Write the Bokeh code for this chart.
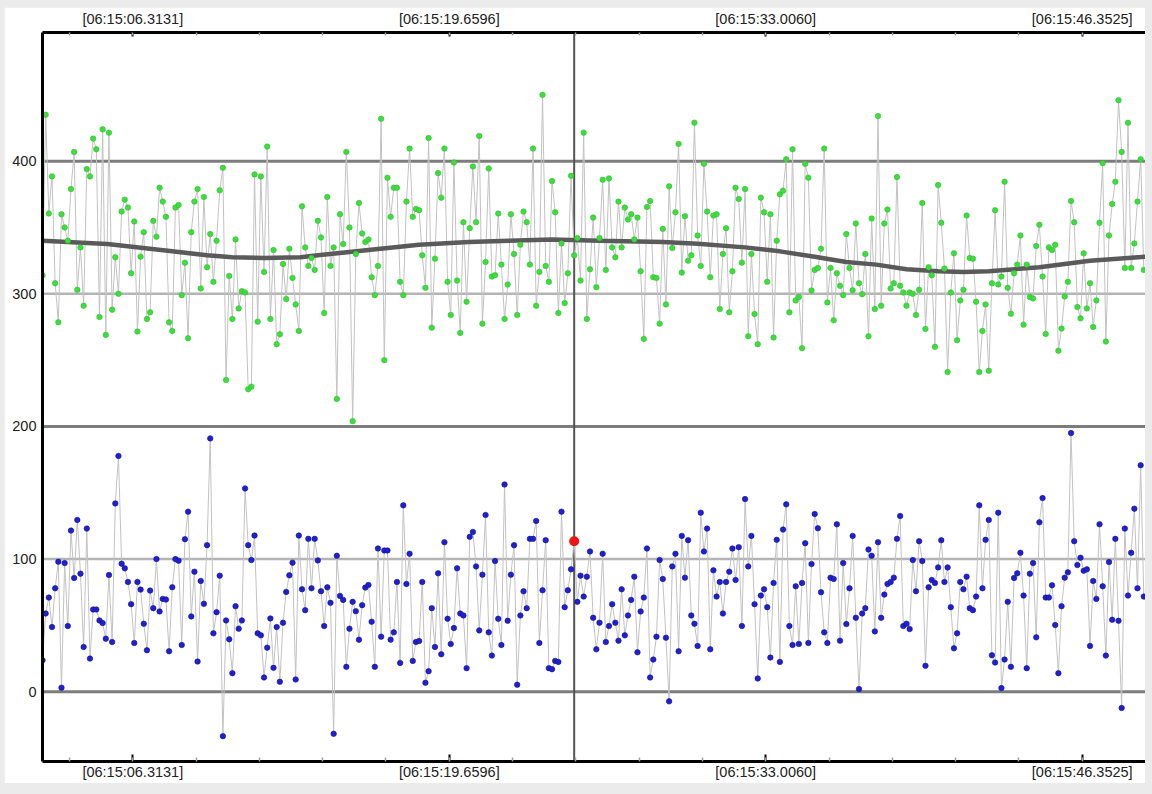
from bokeh.plotting import figure
from bokeh.models import (Range1d, LinearAxis, FixedTicker, CustomJSTickFormatter,
                          Span, ColumnDataSource, GlobalInlineStyleSheet)
from bokeh.embed import file_html
from bokeh.resources import INLINE

# ---- data -------------------------------------------------------------
T0 = 2.505          # seconds after 06:15:00 of the first sample
DT = 0.133465       # sample spacing (s)

green = [
    314, 435, 360.5, 388.5, 308, 278.5, 360, 350, 340, 379,
    407, 303, 335, 291, 394, 388.5, 417, 409, 282.5, 424,
    269, 421.5, 288, 327.5, 300, 362, 371, 365, 315.5, 354.5,
    271.5, 328, 346.5, 281, 286, 355, 343, 380, 369.5, 358,
    278.5, 272, 365, 367, 299, 323.5, 266.5, 346.5, 369.5, 379,
    304, 373, 320, 345, 309, 340, 378, 395, 235, 313.5,
    281, 341, 289, 302, 301, 228, 230, 390, 279, 388.5,
    316.5, 411, 281, 333, 262, 269.5, 322.5, 296, 334, 312,
    292, 272, 366, 335, 321, 327, 318, 355,
    342.5, 285.5, 373, 321, 335, 220.75, 360, 337.5, 407, 350, 204, 330,
    368.5, 345.5, 339, 341, 312.5, 299, 321, 432, 250, 387.5,
    358, 380, 380, 309, 299, 369.5, 409.5, 358, 364, 363,
    329, 304.5, 417.5, 274.5, 326.5, 391, 372.5, 409.5, 309, 284,
    399, 310, 270.5, 354, 294, 349.5, 396, 354, 419, 277.5,
    324, 394.5, 313, 314, 360.5, 322, 281, 307, 360, 330,
    284, 337, 362, 354, 322, 409.5, 291, 316.5, 450, 321,
    309, 385, 361.5, 285.5, 338, 293, 315.5, 389, 329, 342,
    310, 421.5, 281, 318.5, 357.5, 305,
    342, 386, 318, 387,
    335, 327.5, 369.5, 335, 365, 356, 360, 341, 357.5, 317,
    266, 365.5, 370, 312.5, 312, 277.5, 349, 292, 381, 334.5,
    361.5, 413, 316, 358.5, 325, 329, 429, 344, 321, 398,
    362, 312.5, 359, 360, 288.5, 330, 349.5, 286, 317, 380,
    371.5, 323.5, 379, 268, 330, 284.75, 262, 372.5, 361.5, 309,
    360, 267, 340, 375, 377.75, 401.5, 286, 409, 295, 297.5,
    259, 398, 387.5, 302.5, 318, 319.5, 334, 409.5, 293.5, 319.5,
    280, 315.5, 306, 299, 345, 319.5, 302.75, 353, 308, 299.75,
    330, 268, 356.75, 288.5,
    434, 291, 353, 363.5, 304, 308,
    388, 306, 301, 291, 301, 300, 284, 303, 368.5, 273.5,
    320, 314, 260, 382, 353.5, 319, 241, 301, 330.5, 265,
    295, 303, 359, 327, 326.5, 294, 241, 272, 292, 242,
    308, 363, 307, 313, 384.5, 304.5, 285, 315.5, 322, 344,
    276.75, 322, 297.5, 296.5, 336, 352, 313, 269.75, 335, 333,
    337, 257, 273.75, 298, 309, 370, 354, 290, 281.5, 330.5,
    289, 308, 275, 295, 353.5, 398.5, 264, 344, 367.75, 384.5,
    446, 407, 319.5, 429, 319.5, 338, 369.5, 401.5, 318,
]

blue = [
    23.75, 59, 71, 48.75, 78, 98, 3, 97, 49.5, 121.5,
    85.75, 129.5, 89, 33.75, 123, 25, 62, 62, 53.75, 51.75,
    40, 88, 37.5, 142, 177.75, 96.5, 93, 82.75, 66, 36.75,
    82.75, 77, 51.25, 31.25, 76.25, 63, 100, 60.5, 70, 69.5,
    30.5, 78.75, 100, 98.75, 35.25, 115, 135.75, 56.75, 90.5, 22.75,
    83.5, 66.25, 110.5, 191, 44, 60, 87.5, -33.5, 53.75, 39.5,
    14, 64.5, 47.5, 53.75, 153.25, 110.5, 99.25, 117.75, 44, 42.5,
    10.75, 33.25, 55.25, 18, 48.75, 7.5, 52, 75.25, 87.75, 97.25,
    9.25, 117.75, 77.25, 61.5, 115.25, 78, 115.25, 99,
    75.75, 49.5, 78.75, 67, -31.75, 102.5, 72.25, 69.25, 18.75, 47.5, 67.75, 60.75,
    39.25, 65.25, 78.5, 80.5, 52.75, 18.75, 108, 41.5, 106.5, 106.5,
    39.25, 44.75, 82.75, 21.75, 140.5, 81.25, 104, 23.25, 37.5, 38.25,
    82.75, 6.75, 15.5, 63, 33.75, 89.25, 28.25, 112.75, 55, 36,
    48, 93, 59, 57.5, 17.75, 116.75, 120.5, 94.5, 46.25, 88.25,
    133.25, 44.75, 27.25, 98.5, 55, 35.25, 156.25, 53.5, 88.25, 110.5,
    5.25, 57.5, 75.75, 63, 115.25, 115.25, 128.75, 36.75, 76.5, 114.25,
    17.75, 17, 23.25, 22.5, 135.75, 63.75, 76.5, 92.25, 113.5, 67.75,
    87.5, 71.75, 86.75, 105.75, 55.75, 32,
    52, 104, 37.5, 49.5,
    66, 52, 38.5, 77.25, 42.5, 57.5, 69.25, 86.75, 29.75, 60.5,
    71, 108, 10.75, 24.25, 41.5, 99.25, 85, 40.75, -7.25, 94.5,
    104, 30.5, 117.5, 86, 114.25, 57.5, 51.25, 34.5, 135, 105.75,
    123, 32, 91.5, 71.75, 82.75, 59, 82.75, 90.5, 108, 84.25,
    109, 49.5, 145.25, 94.5, 117.5, 66, 10, 72.5, 77.25, 63.75,
    25.75, 82, 114.5, 22.5, 122.25, 141.25, 49.5, 35.25, 79.5, 36,
    82, 112, 36.75, 96.25, 134, 123.25, 75, 44.75, 36.75, 86,
    85, 126.25, 38.5, 97, 51, 78, 117.5, 55.75, 2, 59,
    63, 107.25, 102.5, 45.5,
    112.75, 55.75, 73.25, 81.25, 82.75, 86,
    115.25, 132.5, 49.5, 51.25, 47.25, 99.25, 75.75, 113.5, 98.5, 19.5,
    78.75, 84.25, 82, 93.75, 114.25, 82.75, 93.75, 63.75, 32.75, 44,
    82.75, 77.25, 86.75, 63, 61.5, 71.75, 140.5, 78, 114.5, 129.5,
    27.5, 22, 135, 2.75, 24.25, 67.75, 18.75, 85.75, 89.25, 104.75,
    72.5, 17.75, 89, 97, 41, 127.75, 146, 71, 71, 80.25,
    50.25, 14, 64.5, 86, 90, 195, 113.5, 95.5, 101, 91.25,
    92.25, 34.5, 83.5, 70, 126.25, 79.5, 27.25, 97.75, 54.25, 115.25,
    53.5, -12.25, 123, 72.5, 104.75, 138, 78, 170.75, 71.75,
]

# smooth trend of the green series (sample index, value)
trend_idx = [0, 20.5, 41, 52, 60, 70, 81.5, 87, 103, 119, 134.6, 150, 161, 176,
             196, 207, 222, 233, 244, 254, 263.5, 273, 283, 291, 299, 315, 331, 349]
trend_val = [340, 337.5, 332, 329, 327.5, 327, 327.5, 329, 333, 337, 339, 340.25, 341, 340,
             339, 337.75, 335, 332, 328, 324, 322, 318.5, 317, 316.5, 317, 320, 325, 328]

hover_index = 168   # sample under the cursor (highlighted in red)

x_ticks = [6.3131, 19.6596, 33.0060, 46.3525]
x_tick_labels = ["[06:15:06.3131]", "[06:15:19.6596]", "[06:15:33.0060]", "[06:15:46.3525]"]
y_ticks = [0, 100, 200, 300, 400]
grid_dark = [0, 200, 400]
grid_light = [100, 300]

# ---- build ------------------------------------------------------------
t = [T0 + i * DT for i in range(len(green))]
t_trend = [T0 + i * DT for i in trend_idx]
src = ColumnDataSource(dict(t=t, g=green, b=blue))

x_end = T0 + 1103 / 23.712
p = figure(width=1141, height=776, output_backend="svg", toolbar_location=None,
           x_range=Range1d(T0, x_end), y_range=Range1d(-52.6, 497.0),
           x_axis_location="below", min_border_left=38, min_border_right=0,
           min_border_top=23, min_border_bottom=22)
p.outline_line_color = None
p.background_fill_color = "white"
p.border_fill_color = "white"
p.xgrid.visible = False
p.ygrid.visible = False
p.stylesheets = [GlobalInlineStyleSheet(
    css="html, body { background-color: #ebebeb; } body { padding: 7px 0 0 4px; }")]

# minor ticks: 5 per major interval
step = (x_ticks[1] - x_ticks[0]) / 5
minor = []
k = -10
while True:
    v = x_ticks[0] + k * step
    if v > x_end + step:
        break
    minor.append(v)
    k += 1

fmt_code = """
for (let i = 0; i < xt_vals.length; i++) {
  if (Math.abs(xt_vals[i] - tick) < 1e-6) { return xt_labels[i]; }
}
return "";
"""

def style_x(ax, tin, mtin):
    ax.ticker = FixedTicker(ticks=x_ticks, minor_ticks=minor)
    ax.formatter = CustomJSTickFormatter(args=dict(xt_vals=x_ticks, xt_labels=x_tick_labels),
                                         code=fmt_code)
    ax.axis_line_color = "black"
    ax.axis_line_width = 3
    ax.major_tick_in = tin
    ax.major_tick_out = 0
    ax.minor_tick_in = mtin
    ax.minor_tick_out = 0
    ax.major_tick_line_color = "black"
    ax.major_tick_line_width = 2
    ax.minor_tick_line_color = "#a0a0a0"
    ax.minor_tick_line_width = 1.5
    ax.major_label_text_font = "Liberation Sans"
    ax.major_label_text_font_size = "14.5px"
    ax.major_label_text_color = "#222222"

xb = p.xaxis[0]
style_x(xb, 7, 4)
xb.major_label_standoff = 2

xt = LinearAxis()
style_x(xt, 4, 3)
xt.major_label_standoff = 6
p.add_layout(xt, "above")

ya = p.yaxis[0]
ya.ticker = FixedTicker(ticks=y_ticks, minor_ticks=[])
ya.axis_line_color = "black"
ya.axis_line_width = 3
ya.major_tick_in = 0
ya.major_tick_out = 0
ya.minor_tick_line_color = None
ya.major_tick_line_color = None
ya.major_label_standoff = 6
ya.major_label_text_font = "Liberation Sans"
ya.major_label_text_font_size = "14.5px"
ya.major_label_text_color = "#222222"

for v in grid_light:
    p.add_layout(Span(location=v, dimension="width", line_color="#b4b4b4",
                      line_width=2.5, level="underlay"))
for v in grid_dark:
    p.add_layout(Span(location=v, dimension="width", line_color="#7c7c7c",
                      line_width=3, level="underlay"))
p.add_layout(Span(location=T0 + hover_index * DT, dimension="height",
                  line_color="#555555", line_width=2, level="underlay"))

p.line("t", "g", source=src, line_color="#c2c2c2", line_width=1)
p.line("t", "b", source=src, line_color="#c2c2c2", line_width=1)
p.line(t_trend, trend_val, line_color="#5a5a5a", line_width=4.5)
p.scatter("t", "g", source=src, size=5.5, fill_color="#3fdc3f", line_color="#2cc02c", line_width=0.6)
p.scatter("t", "b", source=src, size=5.5, fill_color="#2020d0", line_color="#12128c", line_width=0.6)
p.scatter([t[hover_index]], [blue[hover_index]], size=10, fill_color="#ec1414", line_color=None)

open("out.html", "w").write(file_html(p, INLINE))
